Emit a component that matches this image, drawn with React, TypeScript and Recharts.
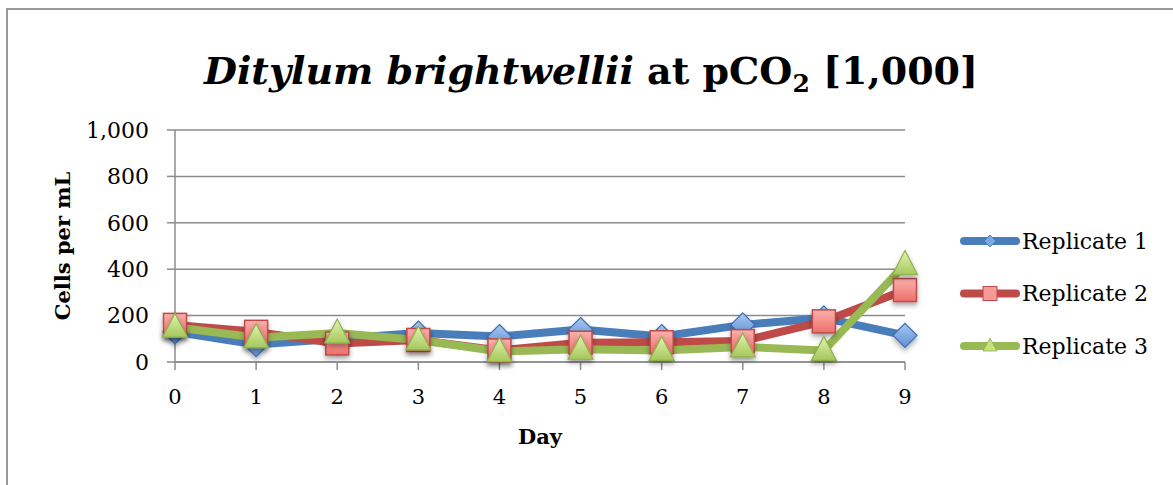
import React from 'react';
import { LineChart, Line, XAxis, YAxis, CartesianGrid } from 'recharts';

const days = ['0', '1', '2', '3', '4', '5', '6', '7', '8', '9'];
const replicate1 = [130, 75, 100, 125, 110, 140, 110, 160, 190, 115];
const replicate2 = [160, 130, 80, 95, 50, 83, 85, 90, 175, 310];
const replicate3 = [150, 105, 125, 95, 45, 55, 50, 65, 50, 420];
const yTicks = [0, 200, 400, 600, 800, 1000];

const data = days.map((d, i) => ({ day: d, r1: replicate1[i], r2: replicate2[i], r3: replicate3[i] }));

const FONT = '"DejaVu Serif", serif';
const GRID = '#8c8c8c';

const BLUE = '#4A7EBB';
const RED = '#BE4B48';
const GREEN = '#98B954';

const Diamond = (props: any) => {
  const { cx, cy, index } = props;
  if (cx == null || cy == null) return <g key={`d${index}`} />;
  const s = 12;
  return (
    <path
      key={`d${index}`}
      d={`M${cx},${cy - s} L${cx + s},${cy} L${cx},${cy + s} L${cx - s},${cy} Z`}
      fill="url(#gBlue)"
      stroke="#3C6EB4"
      strokeWidth={1.2}
      filter="url(#sh)"
    />
  );
};

const Square = (props: any) => {
  const { cx, cy, index } = props;
  if (cx == null || cy == null) return <g key={`s${index}`} />;
  const s = 11.5;
  return (
    <rect
      key={`s${index}`}
      x={cx - s}
      y={cy - s}
      width={2 * s}
      height={2 * s}
      fill="url(#gRed)"
      stroke="#BE4B48"
      strokeWidth={1.5}
      filter="url(#sh)"
    />
  );
};

const Triangle = (props: any) => {
  const { cx, cy, index } = props;
  if (cx == null || cy == null) return <g key={`t${index}`} />;
  const w = 12.5;
  return (
    <path
      key={`t${index}`}
      d={`M${cx},${cy - 14} L${cx + w},${cy + 10} L${cx - w},${cy + 10} Z`}
      fill="url(#gGreen)"
      stroke="#8FB04C"
      strokeWidth={1.2}
      filter="url(#sh)"
    />
  );
};

const legendItems = [
  { name: 'Replicate 1', color: BLUE, shape: 'diamond' },
  { name: 'Replicate 2', color: RED, shape: 'square' },
  { name: 'Replicate 3', color: GREEN, shape: 'triangle' },
];

const LegendBox = () => (
  <svg width={250} height={160} style={{ position: 'absolute', left: 920, top: 200, overflow: 'visible' }}>
    {legendItems.map((it, i) => {
      const y = 41 + i * 52.5;
      const cx = 70;
      let marker: React.ReactNode = null;
      if (it.shape === 'diamond')
        marker = <path d={`M${cx},${y - 6} L${cx + 6},${y} L${cx},${y + 6} L${cx - 6},${y} Z`} fill="#7FA8E2" stroke="#3C6EB4" strokeWidth={0.8} />;
      else if (it.shape === 'square')
        marker = <rect x={cx - 7} y={y - 7} width={14} height={14} fill="#F59A96" stroke="#BE4B48" strokeWidth={1} />;
      else marker = <path d={`M${cx},${y - 8} L${cx + 7},${y + 5} L${cx - 7},${y + 5} Z`} fill="#C6E07E" stroke="#8FB04C" strokeWidth={0.8} />;
      return (
        <g key={it.name}>
          <line x1={44} x2={96} y1={y} y2={y} stroke={it.color} strokeWidth={8} strokeLinecap="round" />
          {marker}
          <text x={102} y={y} dy="0.35em" fontFamily={FONT} fontSize={22} fill="#000">
            {it.name}
          </text>
        </g>
      );
    })}
  </svg>
);

export default function App() {
  return (
    <div style={{ position: 'absolute', left: 0, top: 0, width: 1173, height: 485, overflow: 'hidden', background: '#fff' }}>
      <div
        style={{
          position: 'absolute',
          left: 6,
          top: 8,
          width: 1300,
          height: 600,
          border: '2px solid #9a9a9a',
          boxSizing: 'border-box',
        }}
      />
      <div
        style={{
          position: 'absolute',
          left: 0,
          width: 1182,
          top: 41,
          textAlign: 'center',
          fontFamily: FONT,
          fontWeight: 'bold',
          fontSize: 38,
          lineHeight: '60px',
          color: '#000',
          whiteSpace: 'nowrap',
        }}
      >
        <i>Ditylum brightwellii</i> at pCO<sub style={{ fontSize: 25, verticalAlign: '-0.3em' }}>2</sub> [1,000]
      </div>
      <div style={{ position: 'absolute', left: 0, top: 0 }}>
        <LineChart
          width={1173}
          height={485}
          data={data}
          margin={{ top: 130, right: 268, bottom: 93, left: 115 }}
        >
          <defs>
            <linearGradient id="gBlue" x1="0" y1="0" x2="0" y2="1">
              <stop offset="0%" stopColor="#A9C8F0" />
              <stop offset="100%" stopColor="#5E8FD6" />
            </linearGradient>
            <linearGradient id="gRed" x1="0" y1="0" x2="0" y2="1">
              <stop offset="0%" stopColor="#FBB0AC" />
              <stop offset="100%" stopColor="#EE6F6A" />
            </linearGradient>
            <linearGradient id="gGreen" x1="0" y1="0" x2="0" y2="1">
              <stop offset="0%" stopColor="#E2F3B4" />
              <stop offset="100%" stopColor="#A5C85A" />
            </linearGradient>
            <filter id="sh" x="-50%" y="-50%" width="200%" height="200%">
              <feDropShadow dx="0" dy="3" stdDeviation="2.5" floodColor="#000" floodOpacity="0.35" />
            </filter>
          </defs>
          <CartesianGrid vertical={false} stroke={GRID} strokeWidth={1.5} />
          <XAxis
            dataKey="day"
            height={30}
            tickSize={8}
            tickMargin={19}
            tick={{ fontFamily: FONT, fontSize: 21, fill: '#000' }}
            tickLine={{ stroke: GRID, strokeWidth: 1.5 }}
            axisLine={{ stroke: GRID, strokeWidth: 1.5 }}
            interval={0}
            label={{ value: 'Day', position: 'insideBottom', offset: -52, style: { fontFamily: FONT, fontSize: 21, fontWeight: 'bold', fill: '#000' } }}
          />
          <YAxis
            width={60}
            domain={[0, 1000]}
            ticks={yTicks}
            tickFormatter={(v: number) => v.toLocaleString('en-US')}
            tickSize={8}
            tickMargin={18}
            tick={{ fontFamily: FONT, fontSize: 22, fill: '#000' }}
            tickLine={{ stroke: GRID, strokeWidth: 1.5 }}
            axisLine={{ stroke: GRID, strokeWidth: 1.5 }}
            label={{
              value: 'Cells per mL',
              angle: -90,
              position: 'center',
              dx: -82,
              style: { fontFamily: FONT, fontSize: 21, fontWeight: 'bold', fill: '#000', textAnchor: 'middle' },
            }}
          />
          <Line
            dataKey="r1"
            name="Replicate 1"
            stroke={BLUE}
            strokeWidth={8}
            strokeLinejoin="round"
            dot={Diamond}
            activeDot={false}
            isAnimationActive={false}
          />
          <Line
            dataKey="r2"
            name="Replicate 2"
            stroke={RED}
            strokeWidth={8}
            strokeLinejoin="round"
            dot={Square}
            activeDot={false}
            isAnimationActive={false}
          />
          <Line
            dataKey="r3"
            name="Replicate 3"
            stroke={GREEN}
            strokeWidth={8}
            strokeLinejoin="round"
            dot={Triangle}
            activeDot={false}
            isAnimationActive={false}
          />
        </LineChart>
      </div>
      <LegendBox />
    </div>
  );
}
